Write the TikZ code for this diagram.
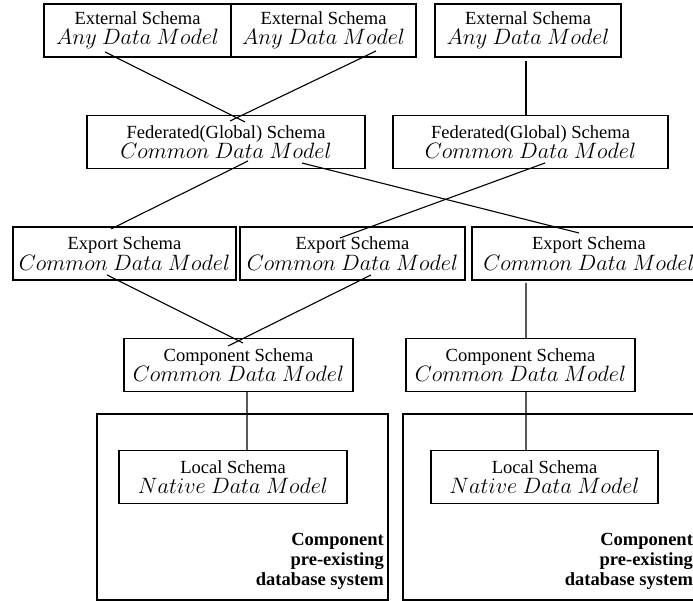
\documentclass[tikz,border=0pt]{standalone}
\usepackage{fontspec}
\setmainfont{Liberation Serif}
\usepackage{tikz}
\usetikzlibrary{calc}

\newcommand{\dm}[1]{{\fontsize{11.5}{12}\selectfont$#1$}}

\begin{document}
\begin{tikzpicture}[x=0.54pt, y=-0.54pt,
    schema/.style={draw, line width=0.9pt, align=center, inner sep=1pt,
      minimum height=28.6pt, font=\fontsize{10}{11}\selectfont},
    dbsys/.style={draw, line width=1.4pt, minimum width=157.1pt, minimum height=100.4pt},
    link/.style={line width=0.6pt}]
      \path[use as bounding box] (0, 0) rectangle (693, 601);

      % component database systems
      \node[dbsys] at (242.5, 507) (b1) {};
      \node[dbsys, minimum width=158.8pt] at (550, 507) (b2) {};
      \node[anchor=south east, align=right, inner sep=0pt,
        font=\fontsize{10}{10.8}\selectfont\bfseries]
        at ($(b1.south east)+(-5,-11)$) (sys1) {Component\\pre-existing\\database system};
      \node[anchor=south east, align=right, inner sep=0pt,
        font=\fontsize{10}{10.8}\selectfont\bfseries]
        at ($(b2.south east)+(-5,-11)$) (sys2) {Component\\pre-existing\\database system};

      % external schemas
      \node[schema, minimum width=101pt] at (137.5, 30.5) (e1) {External Schema\\\dm{Any\ Data\ Model}};
      \node[schema, minimum width=99.9pt] at (323.5, 30.5) (e2) {External Schema\\\dm{Any\ Data\ Model}};
      \node[schema, minimum width=100.4pt] at (528, 30.5) (e3) {External Schema\\\dm{Any\ Data\ Model}};

      % federated schemas
      \node[schema, minimum width=150.1pt] at (226, 142) (f1) {Federated(Global) Schema\\\dm{Common\ Data\ Model}};
      \node[schema, minimum width=148.5pt] at (530.5, 142) (f2) {Federated(Global) Schema\\\dm{Common\ Data\ Model}};

      % export schemas
      \node[schema, minimum width=120.4pt] at (124.5, 253.5) (x1) {Export Schema\\\dm{Common\ Data\ Model}};
      \node[schema, minimum width=121.5pt] at (352.5, 253.5) (x2) {Export Schema\\\dm{Common\ Data\ Model}};
      \node[schema, minimum width=126.4pt] at (589, 253.5) (x3) {Export Schema\\\dm{Common\ Data\ Model}};

      % component schemas
      \node[schema, minimum width=123.7pt] at (238.5, 365) (c1) {Component Schema\\\dm{Common\ Data\ Model}};
      \node[schema, minimum width=123.7pt] at (520.5, 365) (c2) {Component Schema\\\dm{Common\ Data\ Model}};

      % local schemas
      \node[schema, minimum width=123.1pt] at (233, 477) (l1) {Local Schema\\\dm{Native\ Data\ Model}};
      \node[schema, minimum width=122.6pt] at (544.5, 477) (l2) {Local Schema\\\dm{Native\ Data\ Model}};

      % mappings
      \draw[link] ($(e1)+(-32.5,21.5)$) -- ($(f1)+(19,-20)$);
      \draw[link] ($(e2)+(52.5,20.5)$) -- ($(f1)+(4,-21)$);
      \draw[link] ($(e3)+(-2,30.5)$) -- ($(f2)+(-4.5,-26)$);

      \draw[link] ($(f1)+(22,19)$) -- ($(x1)+(-13.5,-24.5)$);
      \draw[link] ($(f1)+(76,21)$) -- ($(x3)+(-10,-20.5)$);
      \draw[link] ($(f2)+(14.5,21)$) -- ($(x2)+(-12.5,-15.5)$);

      \draw[link] ($(x1)+(-17.5,21.5)$) -- ($(c1)+(4.5,-22)$);
      \draw[link] ($(x2)+(18.5,21.5)$) -- ($(c1)+(-10.5,-19)$);
      \draw[link] ($(x3)+(-63,29.5)$) -- ($(c2)+(5.5,-27)$);

      \draw[link] ($(c1)+(8.5,27)$) -- ($(l1)+(14,-27)$);
      \draw[link] ($(c2)+(5.5,27)$) -- ($(l2)+(-18.5,-27)$);
    \end{tikzpicture}
\end{document}
